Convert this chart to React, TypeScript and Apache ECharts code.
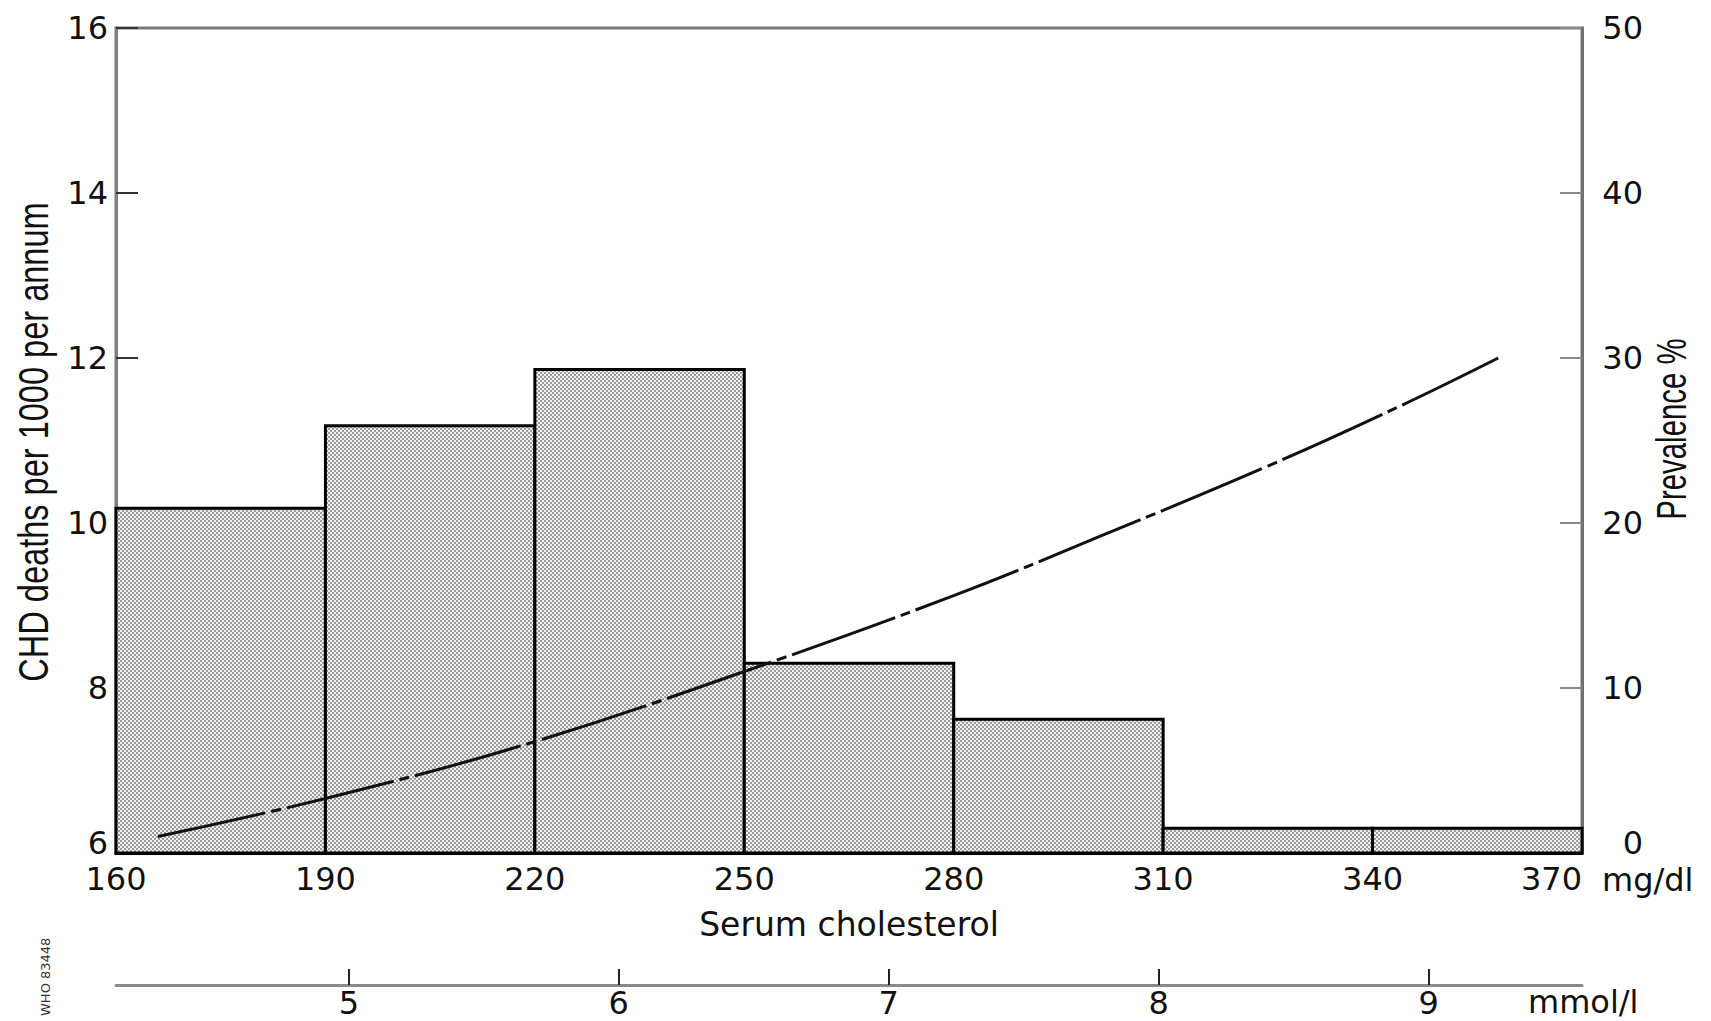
import React, { useEffect, useRef } from 'react';
import * as echarts from 'echarts';

// Histogram: serum cholesterol bins (mg/dl) and prevalence (%)
const BIN_EDGES = [160, 190, 220, 250, 280, 310, 340, 370];
const PREVALENCE = [20.9, 25.9, 29.3, 11.5, 8.1, 1.5, 1.5];

// Curve: CHD deaths per 1000 per annum vs serum cholesterol (mg/dl)
const CURVE_X = [166, 190, 220, 250, 280, 301, 325, 344, 358];
const CURVE_Y = [6.2, 6.66, 7.35, 8.2, 9.12, 9.84, 10.69, 11.42, 12.0];

// Secondary scale in mmol/l
const MMOL_TICKS = [5, 6, 7, 8, 9];
const MG_PER_MMOL = 38.67;

const NUM_FONT = "'DejaVu Sans', sans-serif";
const NAME_FONT = "'Liberation Sans', Arial, sans-serif";

function makePattern(): any {
  const c = document.createElement('canvas');
  c.width = 4;
  c.height = 4;
  const ctx = c.getContext('2d')!;
  ctx.fillStyle = '#f0f0f0';
  ctx.fillRect(0, 0, 4, 4);
  ctx.fillStyle = '#9c9c9c';
  ctx.fillRect(0, 0, 2, 2);
  ctx.fillRect(2, 2, 2, 2);
  return { image: c.toDataURL(), repeat: 'repeat', imageWidth: 4, imageHeight: 4 };
}

export default function App() {
  const ref = useRef<HTMLDivElement>(null);

  useEffect(() => {
    const el = ref.current!;
    const chart = echarts.init(el, null, { renderer: 'svg' });
    const pattern = makePattern();
    const mmolValues = MMOL_TICKS.map((v) => v * MG_PER_MMOL);

    const option: any = {
      animation: false,
      backgroundColor: '#ffffff',
      grid: {
        left: 116,
        top: 28,
        width: 1466,
        height: 825,
        containLabel: false,
        outerBoundsMode: 'none',
        show: true,
        borderColor: '#7a7a7a',
        borderWidth: 3,
        backgroundColor: 'transparent',
      },
      xAxis: [
        {
          type: 'value',
          min: 160,
          max: 370,
          interval: 30,
          position: 'bottom',
          name: 'mg/dl',
          nameLocation: 'end',
          nameGap: 20,
          nameMoveOverlap: false,
          nameTextStyle: {
            fontFamily: NUM_FONT,
            fontSize: 32,
            color: '#111',
            verticalAlign: 'top',
            lineHeight: 54,
          },
          axisLine: { show: true, lineStyle: { color: '#000', width: 3 } },
          axisTick: { show: false },
          axisLabel: { fontFamily: NUM_FONT, fontSize: 32, color: '#111', margin: 10, alignMaxLabel: 'right' },
          splitLine: { show: false },
        },
        {
          type: 'value',
          min: 160,
          max: 370,
          position: 'bottom',
          offset: 132,
          name: 'mmol/l',
          nameLocation: 'end',
          nameGap: -54,
          nameMoveOverlap: false,
          nameTextStyle: {
            fontFamily: NUM_FONT,
            fontSize: 32,
            color: '#111',
            verticalAlign: 'top',
            lineHeight: 34,
          },
          axisLine: { show: true, lineStyle: { color: '#8a8a8a', width: 3 } },
          axisTick: {
            show: true,
            inside: true,
            length: 16,
            customValues: mmolValues,
            lineStyle: { color: '#222', width: 2 },
          },
          axisLabel: {
            fontFamily: NUM_FONT,
            fontSize: 32,
            lineHeight: 30,
            color: '#111',
            margin: 3,
            customValues: mmolValues,
            formatter: (v: number) => String(Math.round(v / MG_PER_MMOL)),
          },
          splitLine: { show: false },
        },
        {
          type: 'value',
          min: 160,
          max: 370,
          position: 'bottom',
          name: 'Serum cholesterol',
          nameLocation: 'middle',
          nameGap: 55,
          nameTextStyle: { fontFamily: NUM_FONT, fontSize: 33, color: '#111' },
          axisLine: { show: false },
          axisTick: { show: false },
          axisLabel: { show: false },
          splitLine: { show: false },
        },
      ],
      yAxis: [
        {
          type: 'value',
          position: 'left',
          min: 6,
          max: 16,
          interval: 2,
          axisLine: { show: true, lineStyle: { color: '#808080', width: 3 } },
          axisTick: { show: true, inside: true, length: 22, lineStyle: { color: '#333', width: 2 } },
          axisLabel: {
            fontFamily: NUM_FONT,
            fontSize: 32,
            lineHeight: 20,
            color: '#111',
            margin: 8,
            verticalAlignMinLabel: 'bottom',
          },
          splitLine: { show: false },
        },
        {
          type: 'value',
          position: 'right',
          min: 0,
          max: 50,
          interval: 10,
          axisLine: { show: true, lineStyle: { color: '#707070', width: 3 } },
          axisTick: { show: true, inside: true, length: 22, lineStyle: { color: '#888', width: 2 } },
          axisLabel: {
            fontFamily: NUM_FONT,
            fontSize: 32,
            lineHeight: 20,
            color: '#111',
            margin: 61,
            align: 'right',
            verticalAlignMinLabel: 'bottom',
          },
          splitLine: { show: false },
        },
      ],
      graphic: [
        {
          type: 'text',
          x: 33,
          y: 442,
          rotation: Math.PI / 2,
          scaleX: 0.775,
          style: {
            text: 'CHD deaths per 1000 per annum',
            fontFamily: NAME_FONT,
            fontSize: 42,
            fill: '#111',
            textAlign: 'center',
            textVerticalAlign: 'middle',
          },
        },
        {
          type: 'text',
          x: 1672,
          y: 429,
          rotation: Math.PI / 2,
          scaleX: 0.7,
          style: {
            text: 'Prevalence %',
            fontFamily: NAME_FONT,
            fontSize: 42,
            fill: '#111',
            textAlign: 'center',
            textVerticalAlign: 'middle',
          },
        },
        {
          type: 'text',
          x: 52,
          y: 1016,
          rotation: Math.PI / 2,
          style: {
            text: 'WHO 83448',
            fontFamily: NUM_FONT,
            fontSize: 13,
            fill: '#333',
            textAlign: 'left',
            textVerticalAlign: 'bottom',
          },
        },
      ],
      series: [
        {
          type: 'custom',
          xAxisIndex: 0,
          yAxisIndex: 1,
          z: 2,
          data: PREVALENCE.map((v, i) => [BIN_EDGES[i], BIN_EDGES[i + 1], v]),
          encode: { x: [0, 1], y: 2 },
          renderItem: (_params: any, api: any) => {
            const x0 = api.value(0);
            const x1 = api.value(1);
            const v = api.value(2);
            const p0 = api.coord([x0, v]);
            const p1 = api.coord([x1, 0]);
            return {
              type: 'rect',
              shape: { x: p0[0], y: p0[1], width: p1[0] - p0[0], height: p1[1] - p0[1] },
              style: { fill: pattern, stroke: '#000', lineWidth: 3 },
            };
          },
        },
        {
          type: 'line',
          xAxisIndex: 0,
          yAxisIndex: 0,
          z: 3,
          smooth: 0.4,
          symbol: 'none',
          data: CURVE_X.map((x, i) => [x, CURVE_Y[i]]),
          lineStyle: { color: '#111', width: 3, type: [110, 6, 10, 6] },
        },
      ],
    };

    chart.setOption(option);
    return () => chart.dispose();
  }, []);

  return (
    <div
      ref={ref}
      style={{ position: 'fixed', left: 0, top: 0, width: 1711, height: 1021, background: '#fff' }}
    />
  );
}
